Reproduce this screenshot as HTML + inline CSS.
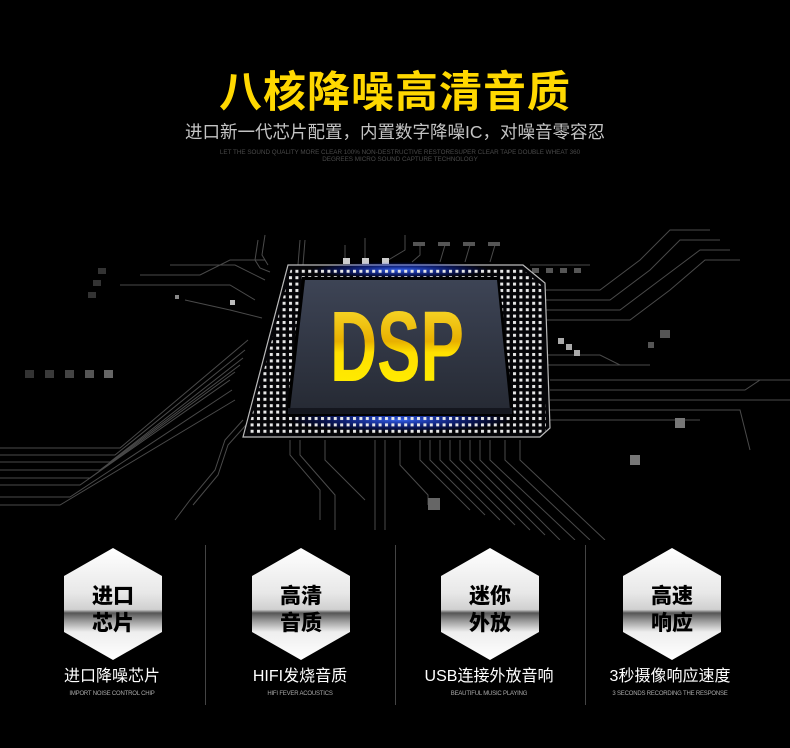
<!DOCTYPE html>
<html><head><meta charset="utf-8">
<style>
html,body{margin:0;padding:0;background:#000;}
body{width:790px;height:748px;position:relative;overflow:hidden;font-family:"Liberation Sans","Noto Sans CJK SC",sans-serif;}
.t1{position:absolute;left:0;width:790px;top:63px;text-align:center;color:#ffd800;font-size:43px;font-weight:bold;line-height:53px;letter-spacing:1px;font-family:"Noto Sans CJK SC",sans-serif;}
.t2{position:absolute;left:0;width:790px;top:121px;text-align:center;color:#c4c4c4;font-size:17.5px;line-height:22px;font-family:"Liberation Sans","Noto Sans CJK SC",sans-serif;}
.t3{position:absolute;left:175px;width:450px;top:149px;text-align:center;color:#4a4a4a;font-size:6.3px;line-height:7px;}
.div{position:absolute;top:545px;width:1px;height:160px;background:#444;}
.hex{position:absolute;top:548px;width:98px;height:112px;clip-path:polygon(50% 0,100% 25%,100% 75%,50% 100%,0 75%,0 25%);
background:linear-gradient(#fff 0%,#e8e8e8 40%,#d0d0d0 55%,#555 58%,#999 65%,#eee 75%,#fff 100%);}
.hex span{position:absolute;left:0;width:98px;top:34px;text-align:center;font-size:21px;line-height:27px;font-weight:900;color:#000;font-family:"Noto Sans CJK SC",sans-serif;}
.lab{position:absolute;top:667px;width:190px;text-align:center;color:#fff;font-size:16px;line-height:20px;}
.sub{position:absolute;top:690px;width:190px;text-align:center;color:#aaa;font-size:6px;line-height:8px;letter-spacing:-0.2px;}
</style></head><body>
<svg width="790" height="540" style="position:absolute;left:0;top:0" viewBox="0 0 790 540">
<defs>
<pattern id="dots" width="6.4" height="6.4" patternUnits="userSpaceOnUse"><rect x="1" y="1" width="3" height="3" fill="#e8e8e8"/></pattern>
<linearGradient id="gold" x1="0" y1="0" x2="0" y2="1"><stop offset="0" stop-color="#ffe83a"/><stop offset="0.45" stop-color="#e8b000"/><stop offset="0.55" stop-color="#ffe000"/><stop offset="1" stop-color="#fff200"/></linearGradient>
<linearGradient id="inner" x1="0" y1="0" x2="0" y2="1"><stop offset="0" stop-color="#3d4455"/><stop offset="1" stop-color="#262a34"/></linearGradient>
<radialGradient id="glow"><stop offset="0" stop-color="#3a6bff" stop-opacity="0.9"/><stop offset="1" stop-color="#0020ff" stop-opacity="0"/></radialGradient>
</defs>
<g stroke="#4a4a4a" stroke-width="1" fill="none">
<polyline points="0,485 80,485 230,380"/><polyline points="0,478 90,478 235,372"/><polyline points="0,470 100,470 240,365"/>
<polyline points="0,462 110,462 243,358"/><polyline points="0,455 115,455 245,350"/><polyline points="0,448 120,448 248,340"/>
<polyline points="0,497 70,497 232,390"/><polyline points="0,505 60,505 235,400"/>
<polyline points="120,285 230,285 255,300"/><polyline points="140,275 200,275 230,260 265,260"/><polyline points="170,265 235,265 265,280"/>
<polyline points="185,300 230,310 262,318"/>
<polyline points="545,290 600,290 640,260 670,230 710,230"/><polyline points="545,300 610,300 650,270 680,240 720,240"/>
<polyline points="545,310 620,310 660,280 700,250 730,250"/><polyline points="545,320 630,320 670,290 705,260 740,260"/>
<polyline points="545,355 600,355 620,365 650,365"/><polyline points="548,365 640,365"/>
<polyline points="550,380 790,380"/><polyline points="550,390 745,390 760,380 790,380"/><polyline points="550,400 790,400"/>
<polyline points="550,410 740,410 750,450"/><polyline points="550,420 700,420"/>
<polyline points="290,440 290,455 320,490 320,520"/><polyline points="300,440 300,455 335,495 335,530"/>
<polyline points="325,440 325,460 365,500"/><polyline points="375,440 375,530"/><polyline points="385,440 385,530"/>
<polyline points="400,440 400,465 428,495 428,505"/>
<polyline points="420,440 420,460 470,510"/><polyline points="430,440 430,460 485,515"/><polyline points="440,440 440,460 500,520"/>
<polyline points="450,440 450,460 515,525"/><polyline points="460,440 460,460 530,530"/><polyline points="470,440 470,460 545,535"/>
<polyline points="480,440 480,460 560,540"/><polyline points="490,440 490,460 575,540"/><polyline points="505,440 505,460 590,540"/>
<polyline points="520,440 520,460 605,540"/>
<polyline points="243,420 225,440 215,470 190,500 175,520"/><polyline points="246,425 228,445 218,475 193,505"/>
<polyline points="258,240 255,260 260,268 270,272"/><polyline points="265,235 262,255 268,265"/>
<polyline points="300,240 298,265"/><polyline points="305,240 303,265"/>
<polyline points="345,245 345,262"/><polyline points="365,238 365,262"/><polyline points="405,235 405,250 385,262"/>
<polyline points="530,265 590,265"/>
<polyline points="420,245 420,255 412,262"/><polyline points="445,245 440,262"/><polyline points="470,245 465,262"/><polyline points="495,245 490,262"/>
</g>
<g fill="#555">
<rect x="413" y="242" width="12" height="4"/><rect x="438" y="242" width="12" height="4"/><rect x="463" y="242" width="12" height="4"/><rect x="488" y="242" width="12" height="4"/>
<rect x="25" y="370" width="9" height="8" fill="#333"/><rect x="45" y="370" width="9" height="8" fill="#3a3a3a"/><rect x="65" y="370" width="9" height="8" fill="#444"/><rect x="85" y="370" width="9" height="8" fill="#555"/><rect x="104" y="370" width="9" height="8" fill="#666"/>
<rect x="98" y="268" width="8" height="6" fill="#333"/><rect x="93" y="280" width="8" height="6" fill="#333"/><rect x="88" y="292" width="8" height="6" fill="#333"/>
<rect x="532" y="268" width="7" height="5"/><rect x="546" y="268" width="7" height="5"/><rect x="560" y="268" width="7" height="5"/><rect x="574" y="268" width="7" height="5"/>
<rect x="660" y="330" width="10" height="8"/><rect x="648" y="342" width="6" height="6"/>
<rect x="558" y="338" width="6" height="6" fill="#aaa"/><rect x="566" y="344" width="6" height="6" fill="#aaa"/><rect x="574" y="350" width="6" height="6" fill="#aaa"/>
<rect x="675" y="418" width="10" height="10" fill="#777"/><rect x="630" y="455" width="10" height="10" fill="#777"/>
<rect x="428" y="498" width="12" height="12" fill="#666"/>
<rect x="343" y="258" width="7" height="6" fill="#ccc"/><rect x="362" y="258" width="7" height="6" fill="#ccc"/><rect x="382" y="258" width="7" height="6" fill="#ccc"/>
<rect x="230" y="300" width="5" height="5" fill="#bbb"/><rect x="175" y="295" width="4" height="4" fill="#888"/>
</g>
<polygon points="243,437 288,265 523,265 545,283 550,428 540,437" fill="#050508" stroke="#bbb" stroke-width="1.2"/>
<ellipse cx="400" cy="270" rx="90" ry="8" fill="url(#glow)"/>
<ellipse cx="400" cy="420" rx="110" ry="12" fill="url(#glow)"/>
<polygon points="247,434 291,268 521,268 541,285 546,430 538,434" fill="url(#dots)"/>
<polygon points="286,416 302,277 499,277 514,416" fill="#000"/>
<polygon points="290,410 305,280 497,280 510,410" fill="url(#inner)"/>
<rect x="288" y="408" width="224" height="6" fill="#14161e"/>
<text x="397" y="381" text-anchor="middle" font-family="Liberation Sans Narrow,Liberation Sans,sans-serif" font-weight="bold" font-size="100" fill="url(#gold)" textLength="134" lengthAdjust="spacingAndGlyphs">DSP</text>
</svg>
<div class="t1">八核降噪高清音质</div>
<div class="t2">进口新一代芯片配置，内置数字降噪IC，对噪音零容忍</div>
<div class="t3">LET THE SOUND QUALITY MORE CLEAR 100% NON-DESTRUCTIVE RESTORESUPER CLEAR TAPE DOUBLE WHEAT 360<br>DEGREES MICRO SOUND CAPTURE TECHNOLOGY</div>
<div class="div" style="left:205px"></div><div class="div" style="left:395px"></div><div class="div" style="left:585px"></div>
<div class="hex" style="left:64px"><span>进口<br>芯片</span></div>
<div class="hex" style="left:252px"><span>高清<br>音质</span></div>
<div class="hex" style="left:441px"><span>迷你<br>外放</span></div>
<div class="hex" style="left:623px"><span>高速<br>响应</span></div>
<div class="lab" style="left:17px">进口降噪芯片</div>
<div class="lab" style="left:205px">HIFI发烧音质</div>
<div class="lab" style="left:394px">USB连接外放音响</div>
<div class="lab" style="left:575px">3秒摄像响应速度</div>
<div class="sub" style="left:17px">IMPORT NOISE CONTROL CHIP</div>
<div class="sub" style="left:205px">HIFI FEVER ACOUSTICS</div>
<div class="sub" style="left:394px">BEAUTIFUL MUSIC PLAYING</div>
<div class="sub" style="left:575px">3 SECONDS RECORDING THE RESPONSE</div>
</body></html>
